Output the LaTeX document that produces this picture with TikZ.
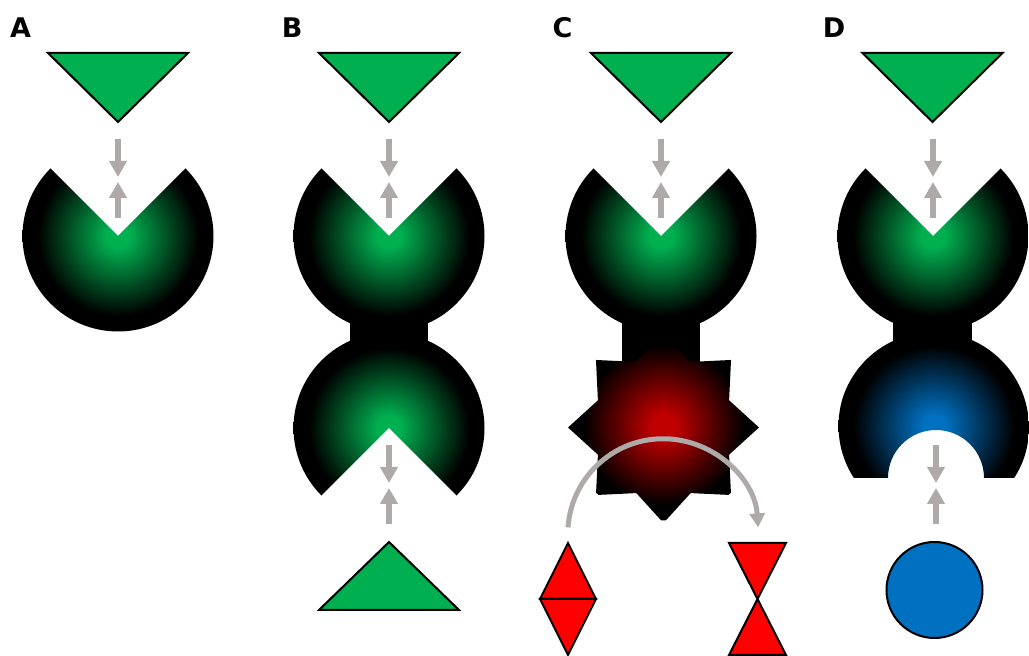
\documentclass[tikz,border=0pt]{standalone}
\usepackage{fontspec}
\setmainfont{DejaVu Sans}
\usetikzlibrary{arrows.meta}
\definecolor{tgreen}{HTML}{00B050}
\definecolor{tred}{HTML}{FF0000}
\definecolor{tblue}{HTML}{0070C0}
\definecolor{glowred}{HTML}{C00000}
\definecolor{agray}{HTML}{AEAAAA}
\pgfdeclareradialshading{greenglow}{\pgfpointorigin}{color(0bp)=(tgreen); color(3bp)=(tgreen); color(21bp)=(black); color(50bp)=(black)}
\pgfdeclareradialshading{redglow}{\pgfpointorigin}{color(0bp)=(glowred); color(3bp)=(glowred); color(21bp)=(black); color(50bp)=(black)}
\pgfdeclareradialshading{blueglow}{\pgfpointorigin}{color(0bp)=(tblue); color(3bp)=(tblue); color(21bp)=(black); color(50bp)=(black)}
\newcommand{\pacup}[3]{%
  \begin{scope}
    \clip (#1,#2) -- +(45:95.5) arc[start angle=45,end angle=-225,radius=95.5] -- cycle;
    \shade[shading=#3] (#1,#2) circle[radius=95.5];
  \end{scope}}
\newcommand{\pacdown}[3]{%
  \begin{scope}
    \clip (#1,#2) -- +(-45:95.5) arc[start angle=-45,end angle=225,radius=95.5] -- cycle;
    \shade[shading=#3] (#1,#2) circle[radius=95.5];
  \end{scope}}
\tikzset{
  lbl/.style={font=\fontsize{27}{27}\selectfont\bfseries, inner sep=0pt, anchor=base west},
  gtri/.style={fill=tgreen, draw=black, line width=2pt},
  rtri/.style={fill=tred, draw=black, line width=2pt},
  garrow/.style={draw=agray, line width=5.5pt, -{Triangle[length=16pt,width=17pt]}},
  carrow/.style={draw=agray, line width=5pt, -{Triangle[length=14pt,width=15pt]}},
  neck/.style={fill=black}
}
\begin{document}
\begin{tikzpicture}[x=1pt,y=1pt]
\useasboundingbox (0,0) rectangle (1029,656);
% labels
\node[lbl] (labA) at (10,618) {A};
\node[lbl] (labB) at (281.6,618) {B};
\node[lbl] (labC) at (552.4,618) {C};
\node[lbl] (labD) at (822.6,618) {D};
% ---------- Panel A
\draw[gtri] (48,603) -- (188,603) -- (118,534) -- cycle;
\pacup{118}{420}{greenglow}
\coordinate (a1s) at (118,517); \coordinate (a1e) at (118,479);
\coordinate (a2s) at (118,438); \coordinate (a2e) at (118,474);
\draw[garrow] (a1s) -- (a1e);
\draw[garrow] (a2s) -- (a2e);
% ---------- Panel B
\draw[gtri] (319,603) -- (459,603) -- (389,534) -- cycle;
\fill[neck] (350,290) rectangle (428,360);
\pacup{389}{420}{greenglow}
\pacdown{389}{228}{greenglow}
\draw[gtri] (389,114) -- (459,46) -- (319,46) -- cycle;
\coordinate (b1s) at (389,517); \coordinate (b1e) at (389,479);
\coordinate (b2s) at (389,438); \coordinate (b2e) at (389,474);
\coordinate (b3s) at (389,211); \coordinate (b3e) at (389,173);
\coordinate (b4s) at (389,132); \coordinate (b4e) at (389,168);
\draw[garrow] (b1s) -- (b1e);
\draw[garrow] (b2s) -- (b2e);
\draw[garrow] (b3s) -- (b3e);
\draw[garrow] (b4s) -- (b4e);
% ---------- Panel C
\draw[gtri] (591,603) -- (731,603) -- (661,534) -- cycle;
\fill[neck] (622,290) rectangle (700,360);
\pacup{661}{420}{greenglow}
\begin{scope}
  \clip (663.5,228.5) +(0:95.5) -- +(22.5:71) -- +(45:95.5) -- +(67.5:71)
    -- +(90:95.5) -- +(112.5:71) -- +(135:95.5) -- +(157.5:71)
    -- +(180:95.5) -- +(202.5:71) -- +(225:95.5) -- +(247.5:71)
    -- +(270:95.5) -- +(292.5:71) -- +(315:95.5) -- +(337.5:71) -- cycle;
  \shade[shading=redglow] (663.5,231) circle[radius=95.5];
\end{scope}
\coordinate (c1s) at (661,517); \coordinate (c1e) at (661,479);
\coordinate (c2s) at (661,438); \coordinate (c2e) at (661,474);
\draw[garrow] (c1s) -- (c1e);
\draw[garrow] (c2s) -- (c2e);
\coordinate (cstart) at (568,128.6);
\draw[carrow] (cstart) arc[start angle=176,end angle=4,radius=95.3];
% red triangles
\draw[rtri] (540,57) -- (596,57) -- (568,113) -- cycle;
\draw[rtri] (540,57) -- (596,57) -- (568,1) -- cycle;
\draw[rtri] (729,113) -- (786,113) -- (757.5,57) -- cycle;
\draw[rtri] (757.5,57) -- (786,1) -- (729,1) -- cycle;
% ---------- Panel D
\draw[gtri] (862.5,603) -- (1002.5,603) -- (932.5,534) -- cycle;
\fill[neck] (893,290) rectangle (972,360);
\pacup{933}{420}{greenglow}
\begin{scope}
  \clip (1014.55,178) arc[start angle=-31.9,end angle=211.9,radius=95.5]
    -- (888,178) arc[start angle=180,end angle=0,radius=48] -- cycle;
  \shade[shading=blueglow] (934,230) circle[radius=95.5];
\end{scope}
\coordinate (d1s) at (933,517); \coordinate (d1e) at (933,479);
\coordinate (d2s) at (933,438); \coordinate (d2e) at (933,474);
\coordinate (d3s) at (936,211); \coordinate (d3e) at (936,173);
\coordinate (d4s) at (936,132); \coordinate (d4e) at (936,168);
\draw[garrow] (d1s) -- (d1e);
\draw[garrow] (d2s) -- (d2e);
\draw[garrow] (d3s) -- (d3e);
\draw[garrow] (d4s) -- (d4e);
\draw[fill=tblue, draw=black, line width=2pt] (934.5,66) circle[radius=48];
\end{tikzpicture}
\end{document}
